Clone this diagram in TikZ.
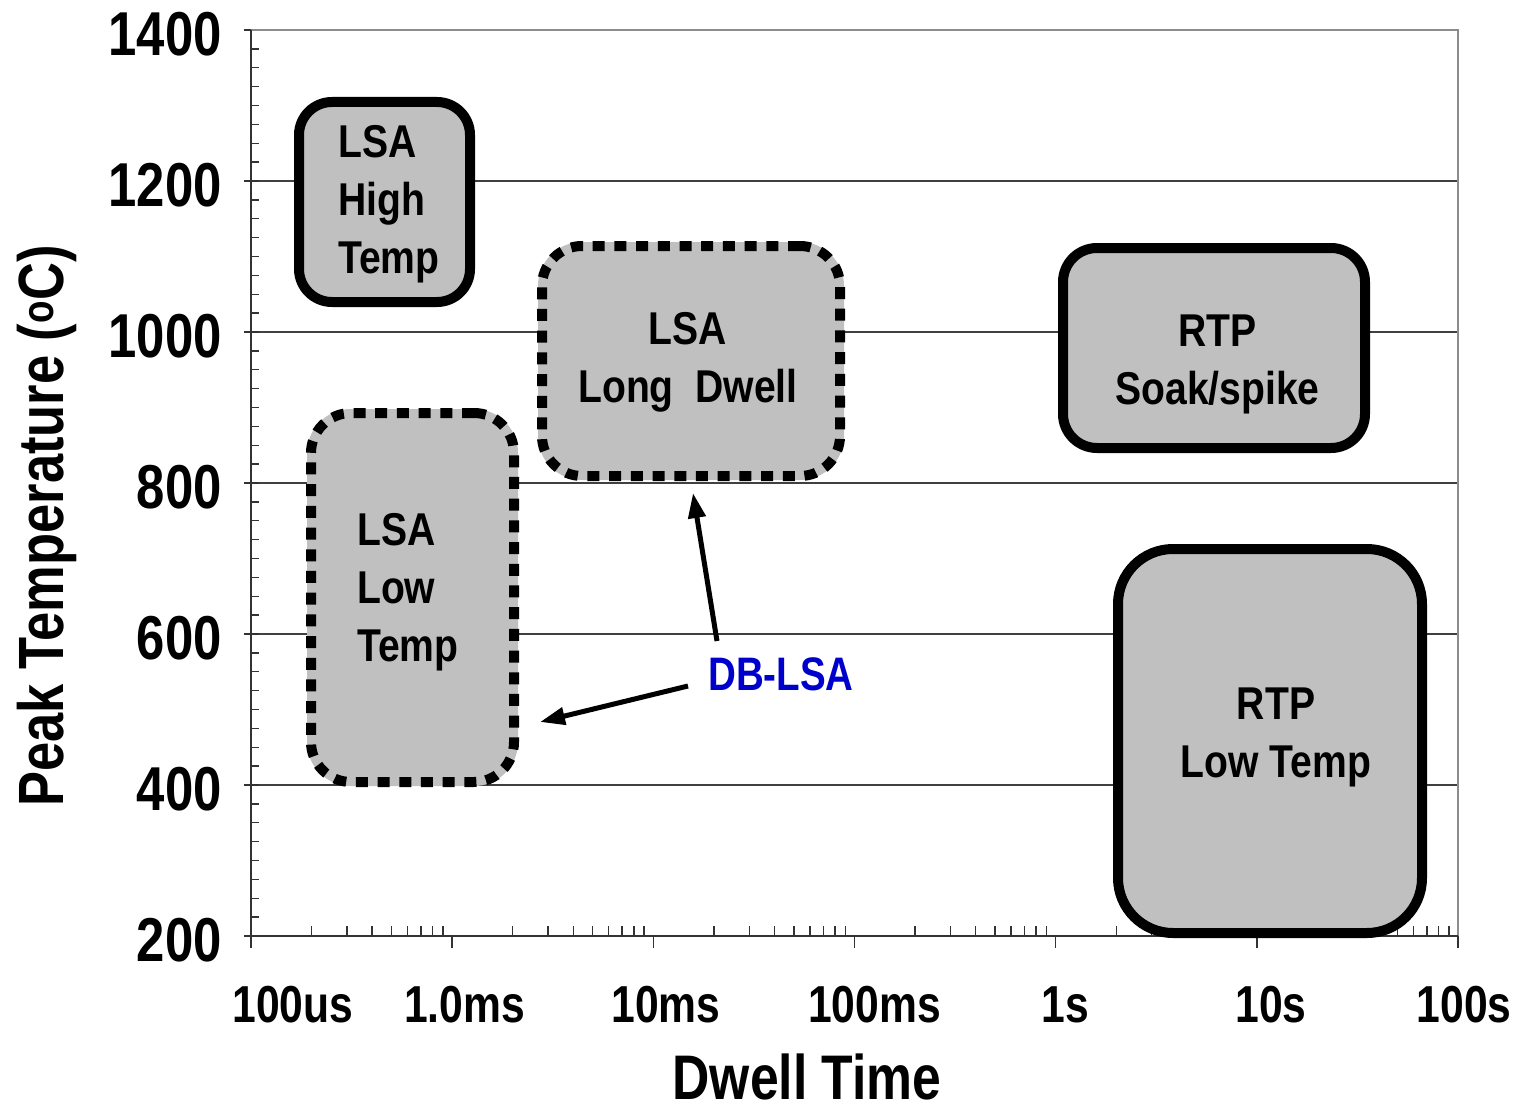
\documentclass[tikz,border=0pt]{standalone}
\usepackage{fontspec}
\setmainfont{Liberation Sans}[FakeStretch=0.82]
\newfontfamily\boxfont{Liberation Sans}[FakeStretch=0.85]
\usetikzlibrary{arrows.meta}
\definecolor{boxgray}{HTML}{C0C0C0}
\definecolor{dbblue}{HTML}{0000CC}
\definecolor{axisgray}{HTML}{333333}
\definecolor{bordergray}{HTML}{8C8C8C}
\begin{document}
\begin{tikzpicture}[x=1pt,y=-1pt,
  solidbox/.style={draw=black, fill=boxgray, line width=10pt, inner sep=0pt},
  dotbox/.style={draw=boxgray, fill=boxgray, line width=8pt, inner sep=0pt,
    postaction={draw=black, line width=10pt, dash pattern=on 12pt off 9.7pt}},
  boxtext/.style={font=\fontsize{46}{58}\selectfont\boxfont\bfseries, inner sep=0pt},
  ylab/.style={font=\fontsize{62}{62}\selectfont\bfseries, inner sep=0pt, anchor=east},
  xlab/.style={font=\fontsize{52}{52}\selectfont\bfseries, inner sep=0pt, anchor=base},
  gridline/.style={draw=black!75, line width=1.3pt},
  axisline/.style={draw=axisgray, line width=2pt},
  tickline/.style={draw=axisgray, line width=1.4pt},
  arrowline/.style={line width=5pt, -{Triangle[length=25pt,width=17pt]}}
]
\fill[white] (0,0) rectangle (1515,1113);
\useasboundingbox (0,0) rectangle (1515,1113);

% grid lines
\foreach \yy in {181,332,483,634,785}
  \draw[gridline] (251,\yy) -- (1458,\yy);
% top and right border
\draw[draw=bordergray, line width=2.5pt] (251,30) -- (1458,30) -- (1458,936);
% axes
\draw[axisline] (251,30) -- (251,948);
\draw[axisline] (244,936) -- (1458,936);
% y ticks
\foreach \i in {0,...,6}
  \draw[tickline] (244,{30+151*\i}) -- (251,{30+151*\i});
\foreach \i in {1,...,47}
  \draw[tickline] (251,{30+18.875*\i}) -- (259,{30+18.875*\i});
% x ticks
\foreach \d in {0,...,6}
  \draw[tickline] ({251+201.1667*\d},936) -- ({251+201.1667*\d},948);
\foreach \d in {0,...,5}
  \foreach \k in {2,...,9}
    \draw[tickline] ({251+201.1667*(\d+log10(\k))},936) -- ({251+201.1667*(\d+log10(\k))},926);

% tick labels
\node[ylab] (y1400) at (222,34) {1400};
\node[ylab] (y1200) at (222,185) {1200};
\node[ylab] (y1000) at (222,336) {1000};
\node[ylab] (y800) at (222,487) {800};
\node[ylab] (y600) at (222,638) {600};
\node[ylab] (y400) at (222,789) {400};
\node[ylab] (y200) at (222,940) {200};
\node[xlab] (x1) at (293,1022) {100us};
\node[xlab] (x2) at (464.5,1022) {1.0ms};
\node[xlab] (x3) at (666,1022) {10ms};
\node[xlab] (x4) at (874.5,1022) {100ms};
\node[xlab] (x5) at (1065,1022) {1s};
\node[xlab] (x6) at (1271,1022) {10s};
\node[xlab] (x7) at (1464,1022) {100s};

% axis titles
\node[font=\fontsize{63}{63}\selectfont\bfseries, inner sep=0pt, anchor=base] (xtitle) at (807,1099) {Dwell Time};
\node[font=\fontsize{64}{64}\selectfont\bfseries, inner sep=0pt, anchor=base, rotate=90] (ytitle) at (63,526) {Peak Temperature (\textsuperscript{o}C)};

% boxes
\node[solidbox, minimum width=171pt, minimum height=200pt, rounded corners=33pt] (hight) at (384.5,202) {};
\node[dotbox, minimum width=203pt, minimum height=369pt, rounded corners=40pt] (lowt) at (412.5,597.5) {};
\node[dotbox, minimum width=298pt, minimum height=230pt, rounded corners=40pt] (longd) at (691,361) {};
\node[solidbox, minimum width=302pt, minimum height=200pt, rounded corners=34pt] (soak) at (1214,348) {};
\node[solidbox, minimum width=304pt, minimum height=384pt, rounded corners=55pt] (rtplow) at (1270,741) {};

% box texts
\node[boxtext, align=left, anchor=west] (hight-t) at (338,204.5) {LSA\\High\\Temp};
\node[boxtext, align=left, anchor=west] (lowt-t) at (357,592.5) {LSA\\Low\\Temp};
\node[boxtext, align=center] (longd-t) at (688,362.5) {LSA\\Long~~Dwell};
\node[boxtext, align=center] (soak-t) at (1217.5,364) {RTP\\Soak/spike};
\node[boxtext, align=center] (rtplow-t) at (1276,737.5) {RTP\\Low Temp};

% DB-LSA label and arrows
\node[font=\fontsize{47}{47}\selectfont\bfseries, text=dbblue, inner sep=0pt, anchor=base west] (db) at (708,690) {DB-LSA};
\coordinate (db1) at ([shift={(-20,-4)}]db.base west);
\coordinate (db2) at ([shift={(9,-49)}]db.base west);
\coordinate (tip1) at ([shift={(22,124.5)}]lowt.east);
\coordinate (tip2) at ([shift={(2,13)}]longd.south);
\draw[arrowline] (db1) -- (tip1);
\draw[arrowline] (db2) -- (tip2);
\end{tikzpicture}
\end{document}
